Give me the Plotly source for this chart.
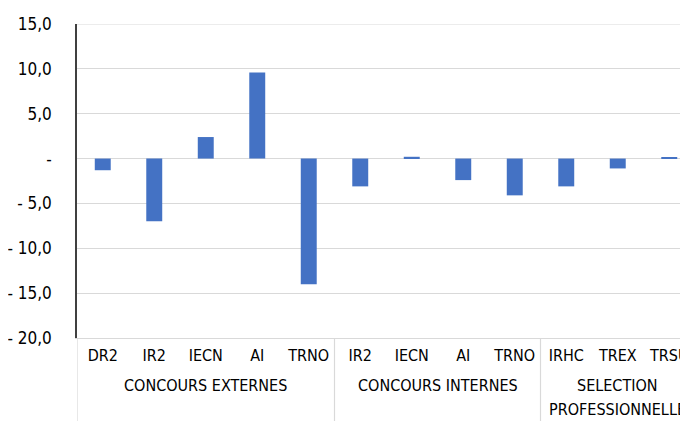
import plotly.graph_objects as go

# Category labels and their groups
categories = ['DR2', 'IR2', 'IECN', 'AI', 'TRNO',
              'IR2', 'IECN', 'AI', 'TRNO',
              'IRHC', 'TREX', 'TRSU']
groups = ['CONCOURS EXTERNES', 'CONCOURS INTERNES', 'SELECTION<br>PROFESSIONNELLE']
group_sizes = [5, 4, 3]

# Variation values
values = [-1.3, -7.0, 2.4, 9.6, -14.0,
          -3.1, 0.2, -2.4, -4.1,
          -3.1, -1.1, 0.1]

# Y tick labels (French number format)
y_ticks = [15, 10, 5, 0, -5, -10, -15, -20]
y_ticktext = ['15,0', '10,0', '5,0', '-', '- 5,0', '- 10,0', '- 15,0', '- 20,0']

FONT = 'DejaVu Sans Condensed, Liberation Sans Narrow, sans-serif'
BAR_COLOR = '#4472C4'
GRID = '#D9D9D9'

x_pos = list(range(len(categories)))

fig = go.Figure()
fig.add_trace(go.Bar(
    x=x_pos,
    y=values,
    width=0.31,
    marker=dict(color=BAR_COLOR, line=dict(width=0)),
))

# Group boundaries and centres
bounds = [-0.5]
for n in group_sizes:
    bounds.append(bounds[-1] + n)
centres = [(bounds[i] + bounds[i + 1]) / 2 for i in range(len(groups))]

for b in bounds[:-1]:
    fig.add_shape(type='line', xref='x', yref='paper', x0=b, x1=b, y0=0, y1=-0.3,
                  line=dict(color=GRID, width=1.2), layer='below')

# top gridline (plotly skips the one on the range edge)
fig.add_shape(type='line', xref='paper', yref='y', x0=0, x1=1,
              y0=max(y_ticks), y1=max(y_ticks),
              line=dict(color=GRID, width=1.2), layer='below')

# group labels, one annotation per text line for wider line spacing
for c, g in zip(centres, groups):
    for j, line in enumerate(g.split('<br>')):
        fig.add_annotation(x=c, xref='x', y=0, yref='paper', yanchor='top',
                           yshift=-36 - 24 * j,
                           text=line, showarrow=False,
                           font=dict(family=FONT, size=16, color='#000000'))

# page body has an 8px margin, so margins are shifted to compensate
fig.update_layout(
    width=688, height=421,
    margin=dict(l=69, r=1, t=16, b=91),
    paper_bgcolor='white', plot_bgcolor='white',
    showlegend=False,
    font=dict(family=FONT, size=16, color='#000000'),
)
fig.update_xaxes(
    range=[-0.5, 11.5],
    tickvals=x_pos, ticktext=categories,
    showgrid=False, zeroline=False,
    showline=True, linecolor=GRID, linewidth=1.2,
    ticks='', ticklabelstandoff=3, automargin=False,
    tickfont=dict(family=FONT, size=16),
)
fig.update_yaxes(
    range=[-20, 15],
    tickvals=y_ticks, ticktext=y_ticktext,
    showgrid=True, gridcolor=GRID, gridwidth=1.2,
    zeroline=True, zerolinecolor=GRID, zerolinewidth=1.2,
    showline=True, linecolor='#404040', linewidth=1.5,
    ticks='', ticklabelstandoff=20, automargin=False,
    tickfont=dict(family=FONT, size=17),
)

fig.write_html('out.html')
